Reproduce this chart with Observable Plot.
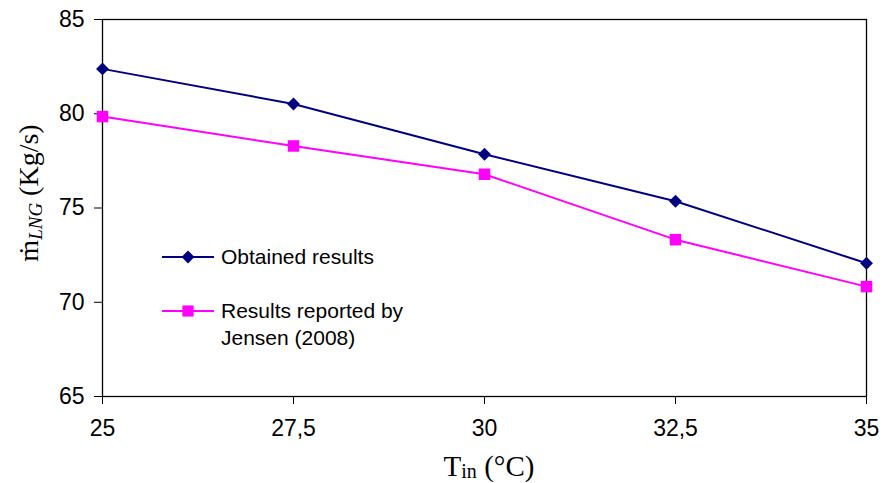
<!DOCTYPE html>
<html>
<head>
<meta charset="utf-8">
<script src="https://cdn.jsdelivr.net/npm/d3@7"></script>
<script src="https://cdn.jsdelivr.net/npm/@observablehq/plot@0.6"></script>
<style>
  html, body { margin: 0; padding: 0; background: #fff; }
</style>
</head>
<body>
<div id="chart"></div>
<script>
const temperatures = [25, 27.5, 30, 32.5, 35];
const obtained = [82.38, 80.52, 77.85, 75.36, 72.07];
const jensen = [79.85, 78.29, 76.79, 73.32, 70.83];
const xTicks = [25, 27.5, 30, 32.5, 35];
const yTicks = [65, 70, 75, 80, 85];
const seriesNames = ["Obtained results", "Results reported by", "Jensen (2008)"];
const navy = "#000080";
const magenta = "#FF00FF";

const obtainedData = temperatures.map((t, i) => ({t, v: obtained[i]}));
const jensenData = temperatures.map((t, i) => ({t, v: jensen[i]}));

const fmt = d => String(d).replace(".", ",");

const chart = Plot.plot({
  width: 882,
  height: 483,
  marginLeft: 102,
  marginRight: 16,
  marginTop: 19,
  marginBottom: 87,
  style: {fontFamily: "'Liberation Sans', Arial, sans-serif", fontSize: "22px", color: "#000", background: "#fff"},
  x: {domain: [25, 35], label: null},
  y: {domain: [65, 85], label: null},
  marks: [
    Plot.frame({stroke: "#000", strokeWidth: 1.3}),
    Plot.axisX({ticks: xTicks, tickFormat: fmt, tickSize: 8, tickPadding: 15, label: null, stroke: "#000"}),
    Plot.axisY({ticks: yTicks, tickSize: 8, tickPadding: 10, label: null, stroke: "#000"}),
    Plot.line(jensenData, {x: "t", y: "v", stroke: magenta, strokeWidth: 2}),
    Plot.line(obtainedData, {x: "t", y: "v", stroke: navy, strokeWidth: 2}),
    Plot.dot(jensenData, {x: "t", y: "v", symbol: "square", r: 6.5, fill: magenta, stroke: "none"}),
    Plot.dot(obtainedData, {x: "t", y: "v", symbol: "diamond2", r: 5.8, fill: navy, stroke: "none"})
  ]
});

document.getElementById("chart").appendChild(chart);

const svg = d3.select(chart);

// Enlarge tick labels to match the reference
svg.selectAll("text")
  .style("font-size", "23px")
  .style("font-family", "'Liberation Sans', Arial, sans-serif");
svg.selectAll("g[aria-label$='tick label']")
  .attr("font-size", null)
  .style("font-size", "23px");

// Axis titles
const yTitle = svg.append("text")
  .attr("transform", "translate(38,193) rotate(-90)")
  .attr("text-anchor", "middle")
  .style("font-family", "'Liberation Serif', 'Times New Roman', serif")
  .style("font-size", "28px")
  .attr("fill", "#000");
yTitle.append("tspan").text("ṁ");
yTitle.append("tspan").attr("font-style", "italic").attr("font-size", "19px").attr("dy", "4").text("LNG");
yTitle.append("tspan").attr("dy", "-4").text(" (Kg/s)");

const xTitle = svg.append("text")
  .attr("x", 489)
  .attr("y", 476)
  .attr("text-anchor", "middle")
  .style("font-family", "'Liberation Serif', 'Times New Roman', serif")
  .style("font-size", "29px")
  .attr("fill", "#000");
xTitle.append("tspan").text("T");
xTitle.append("tspan").attr("font-size", "20px").attr("dy", "2").text("in");
xTitle.append("tspan").attr("dy", "-2").text(" (°C)");

// Legend
const legend = svg.append("g")
  .attr("text-anchor", "start")
  .style("font-family", "'Liberation Sans', Arial, sans-serif")
  .style("font-size", "21px");
const items = [
  {y: 257, color: navy, symbol: d3.symbolDiamond2, size: 106, lines: [seriesNames[0]]},
  {y: 311, color: magenta, symbol: d3.symbolSquare, size: 125, lines: [seriesNames[1], seriesNames[2]]}
];
items.forEach(it => {
  legend.append("line").attr("x1", 162).attr("x2", 214).attr("y1", it.y).attr("y2", it.y)
    .attr("stroke", it.color).attr("stroke-width", 2);
  legend.append("path").attr("d", d3.symbol(it.symbol, it.size)())
    .attr("transform", `translate(188,${it.y})`).attr("fill", it.color);
  it.lines.forEach((ln, j) => {
    legend.append("text").attr("x", 221).attr("y", it.y + j * 27).attr("dy", "0.35em")
      .attr("text-anchor", "start").attr("fill", "#000").text(ln);
  });
});
</script>
</body>
</html>
